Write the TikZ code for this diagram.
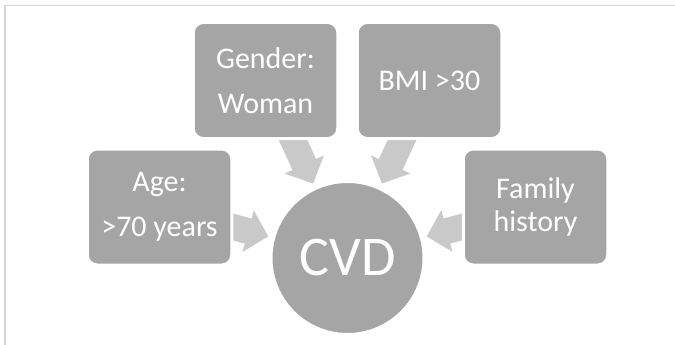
\documentclass[tikz,border=0pt]{standalone}
\usepackage{fontspec}
\setmainfont{Carlito}
\usepackage{tikz}
\usetikzlibrary{arrows.meta,calc,backgrounds}
\definecolor{boxgray}{HTML}{A5A5A5}
\definecolor{arrowgray}{HTML}{C9C9C9}
\definecolor{framegray}{HTML}{D4D4D4}

\begin{document}
\begin{tikzpicture}[x=1pt,y=-1pt,
  factor/.style={rectangle, rounded corners=10pt, fill=boxgray, draw=white, line width=3pt,
    minimum width=144.5pt, minimum height=116pt, inner sep=0pt, text=white, align=center,
    font=\fontsize{30}{45}\selectfont},
  disease/.style={circle, fill=boxgray, draw=white, line width=3pt, minimum size=153pt,
    inner sep=0pt, text=white, font=\fontsize{56}{60}\selectfont},
  flow/.style={arrowgray, line width=26pt, -{Triangle[length=21pt,width=42pt]}}]
\useasboundingbox (0,0) rectangle (675,345);
% Frame
\draw[framegray, line width=1.5pt] (5,345) -- (5,5.5) -- (675,5.5);
% Center
\node[disease] (cvd) at (347.5,258) {CVD};
% Risk factors
\node[factor] (age) at (159.5,207) {Age:\\>70 years};
\node[factor] (gender) at (265.5,80.5) {Gender:\\Woman};
\node[factor] (bmi) at (429.5,80.5) {BMI >30};
\node[factor, font=\fontsize{30}{33.4}\selectfont] (family) at (535.5,207) {Family\\history};
% Arrows
\begin{scope}[on background layer]
\foreach \f in {age,gender,bmi,family} {
  \coordinate (\f-tip) at ($(cvd.center)!82pt!(\f.center)$);
  \draw[flow] (\f.center) -- (\f-tip);
}
\end{scope}
\end{tikzpicture}
\end{document}
